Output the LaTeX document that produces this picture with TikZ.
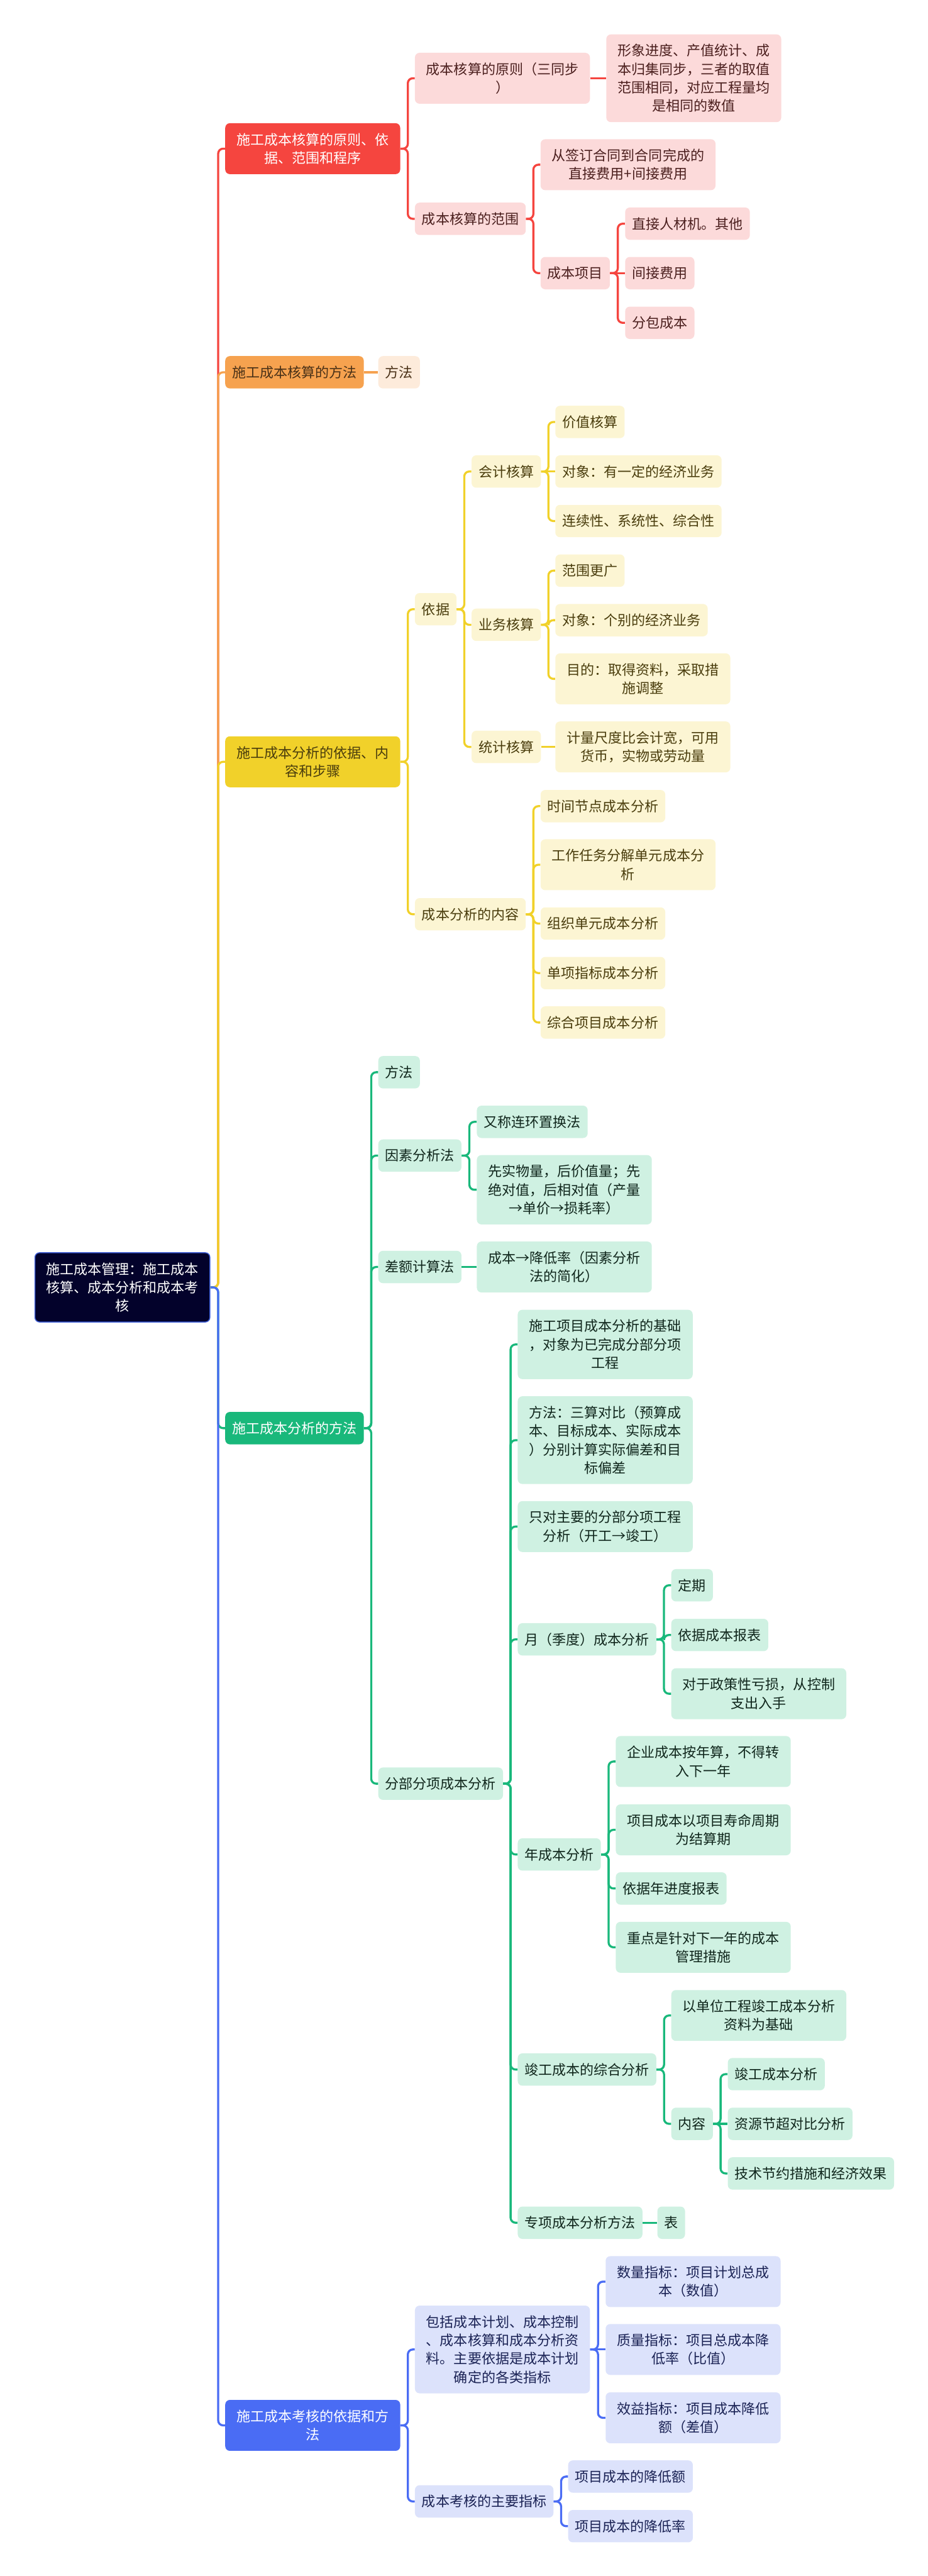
\documentclass[tikz,border=0pt]{standalone}
\usepackage{fontspec}
\setmainfont{Noto Sans CJK SC}
\usepackage{xcolor}
\definecolor{rootBg}{HTML}{03022B}
\definecolor{rootBorder}{HTML}{3D5DD6}
\definecolor{redMain}{HTML}{F5453F}
\definecolor{redSoft}{HTML}{FCDADA}
\definecolor{redInk}{HTML}{4B1F1E}
\definecolor{orgMain}{HTML}{F6A24F}
\definecolor{orgSoft}{HTML}{FDEBDB}
\definecolor{orgInk}{HTML}{4A3117}
\definecolor{ylwMain}{HTML}{F1D12A}
\definecolor{ylwSoft}{HTML}{FCF5D3}
\definecolor{ylwInk}{HTML}{4A3D0D}
\definecolor{grnMain}{HTML}{19B87B}
\definecolor{grnSoft}{HTML}{CFF1E2}
\definecolor{grnInk}{HTML}{10261C}
\definecolor{bluMain}{HTML}{4A6CF4}
\definecolor{bluSoft}{HTML}{DCE2FB}
\definecolor{bluInk}{HTML}{1B2355}
\tikzset{
  every node/.style={font=\fontsize{12}{16}\selectfont},
  rootbox/.style={draw=rootBorder, fill=rootBg, text=white, line width=0.8pt,
    rounded corners=4pt, text width=4.905cm, align=center, inner xsep=6pt,
    inner ysep=2pt, minimum height=2.11cm, anchor=west},
  topic/.style={fill=#1Main, rounded corners=4pt, inner xsep=6pt,
    inner ysep=2pt, minimum height=0.985cm, anchor=west},
  leaf/.style={fill=#1Soft, text=#1Ink, rounded corners=4pt, inner xsep=6pt,
    inner ysep=2pt, minimum height=0.985cm, anchor=west},
  wrap/.style={text width=4.905cm, align=center},
  twoln/.style={minimum height=1.55cm},
  threeln/.style={minimum height=2.11cm},
  fourln/.style={minimum height=2.67cm},
  branch/.style={draw=#1Main, line width=1.8pt, rounded corners=0.15cm}
}

\begin{document}
\begin{tikzpicture}[x=0.05cm,y=-0.05cm]
  \useasboundingbox (0,0) rectangle (565,1568);
  \node[rootbox] (root) at (21,783.6) {施工成本管理：施工成本\\核算、成本分析和成本考\\核};

  % 成本核算
  \node[topic=red,wrap,twoln,text=white] (r0) at (137,90.5) {施工成本核算的原则、依\\据、范围和程序};
  \node[leaf=red,wrap,twoln] (r1) at (252.5,47.65) {成本核算的原则（三同步\\）};
  \node[leaf=red,wrap,fourln] (r11) at (369,47.65) {形象进度、产值统计、成\\本归集同步，三者的取值\\范围相同，对应工程量均\\是相同的数值};
  \node[leaf=red] (r2) at (252.5,133.2) {成本核算的范围};
  \node[leaf=red,wrap,twoln] (r21) at (329,100.25) {从签订合同到合同完成的\\直接费用+间接费用};
  \node[leaf=red] (r22) at (329,166.25) {成本项目};
  \node[leaf=red] (r221) at (380.5,136.15) {直接人材机。其他};
  \node[leaf=red] (r222) at (380.5,166.25) {间接费用};
  \node[leaf=red] (r223) at (380.5,196.5) {分包成本};

  \node[topic=org,text=orgInk] (o0) at (137,226.6) {施工成本核算的方法};
  \node[leaf=org] (o1) at (230.2,226.6) {方法};

  % 成本分析的依据
  \node[topic=ylw,wrap,twoln,text=ylwInk] (y0) at (137,463.7) {施工成本分析的依据、内\\容和步骤};
  \node[leaf=ylw] (y1) at (252.5,370.85) {依据};
  \node[leaf=ylw] (y11) at (287,287) {会计核算};
  \node[leaf=ylw] (y111) at (338,256.85) {价值核算};
  \node[leaf=ylw] (y112) at (338,287) {对象：有一定的经济业务};
  \node[leaf=ylw] (y113) at (338,317.15) {连续性、系统性、综合性};
  \node[leaf=ylw] (y12) at (287,380.3) {业务核算};
  \node[leaf=ylw] (y121) at (338,347.35) {范围更广};
  \node[leaf=ylw] (y122) at (338,377.5) {对象：个别的经济业务};
  \node[leaf=ylw,wrap,twoln] (y123) at (338,413.2) {目的：取得资料，采取措\\施调整};
  \node[leaf=ylw] (y13) at (287,454.65) {统计核算};
  \node[leaf=ylw,wrap,twoln] (y131) at (338,454.65) {计量尺度比会计宽，可用\\货币，实物或劳动量};
  \node[leaf=ylw] (y2) at (252.5,556.5) {成本分析的内容};
  \node[leaf=ylw] (y21) at (329,490.7) {时间节点成本分析};
  \node[leaf=ylw,wrap,twoln] (y22) at (329,526.35) {工作任务分解单元成本分\\析};
  \node[leaf=ylw] (y23) at (329,562.15) {组织单元成本分析};
  \node[leaf=ylw] (y24) at (329,592.3) {单项指标成本分析};
  \node[leaf=ylw] (y25) at (329,622.4) {综合项目成本分析};

  % 成本分析的方法
  \node[topic=grn,text=white] (g0) at (137,869.3) {施工成本分析的方法};
  \node[leaf=grn] (g1) at (230.2,652.65) {方法};
  \node[leaf=grn] (g2) at (230.2,703.4) {因素分析法};
  \node[leaf=grn] (g21) at (290.2,682.85) {又称连环置换法};
  \node[leaf=grn,wrap,threeln] (g22) at (290.2,724.2) {先实物量，后价值量；先\\绝对值，后相对值（产量\\→单价→损耗率）};
  \node[leaf=grn] (g3) at (230.2,771.2) {差额计算法};
  \node[leaf=grn,wrap,twoln] (g31) at (290.2,771.2) {成本→降低率（因素分析\\法的简化）};
  \node[leaf=grn] (g4) at (230.2,1085.7) {分部分项成本分析};
  \node[leaf=grn,wrap,threeln] (g41) at (315.1,818.35) {施工项目成本分析的基础\\，对象为已完成分部分项\\工程};
  \node[leaf=grn,wrap,fourln] (g42) at (315.1,876.6) {方法：三算对比（预算成\\本、目标成本、实际成本\\）分别计算实际偏差和目\\标偏差};
  \node[leaf=grn,wrap,twoln] (g43) at (315.1,929.2) {只对主要的分部分项工程\\分析（开工→竣工）};
  \node[leaf=grn] (g44) at (315.1,997.85) {月（季度）成本分析};
  \node[leaf=grn] (g441) at (408.6,964.95) {定期};
  \node[leaf=grn] (g442) at (408.6,995.2) {依据成本报表};
  \node[leaf=grn,wrap,twoln] (g443) at (408.6,1030.95) {对于政策性亏损，从控制\\支出入手};
  \node[leaf=grn] (g45) at (315.1,1128.8) {年成本分析};
  \node[leaf=grn,wrap,twoln] (g451) at (374.8,1072.2) {企业成本按年算，不得转\\入下一年};
  \node[leaf=grn,wrap,twoln] (g452) at (374.8,1113.8) {项目成本以项目寿命周期\\为结算期};
  \node[leaf=grn] (g453) at (374.8,1149.5) {依据年进度报表};
  \node[leaf=grn,wrap,twoln] (g454) at (374.8,1185.3) {重点是针对下一年的成本\\管理措施};
  \node[leaf=grn] (g46) at (315.1,1259.7) {竣工成本的综合分析};
  \node[leaf=grn,wrap,twoln] (g461) at (408.6,1226.8) {以单位工程竣工成本分析\\资料为基础};
  \node[leaf=grn] (g462) at (408.6,1292.75) {内容};
  \node[leaf=grn] (g4621) at (443,1262.5) {竣工成本分析};
  \node[leaf=grn] (g4622) at (443,1292.75) {资源节超对比分析};
  \node[leaf=grn] (g4623) at (443,1322.95) {技术节约措施和经济效果};
  \node[leaf=grn] (g47) at (315.1,1352.95) {专项成本分析方法};
  \node[leaf=grn] (g471) at (400.1,1352.95) {表};

  % 成本考核
  \node[topic=blu,wrap,twoln,text=white] (b0) at (137,1476.3) {施工成本考核的依据和方\\法};
  \node[leaf=blu,wrap,fourln] (b1) at (252.5,1430.1) {包括成本计划、成本控制\\、成本核算和成本分析资\\料。主要依据是成本计划\\确定的各类指标};
  \node[leaf=blu,wrap,twoln] (b11) at (368.6,1388.8) {数量指标：项目计划总成\\本（数值）};
  \node[leaf=blu,wrap,twoln] (b12) at (368.6,1430.1) {质量指标：项目总成本降\\低率（比值）};
  \node[leaf=blu,wrap,twoln] (b13) at (368.6,1471.7) {效益指标：项目成本降低\\额（差值）};
  \node[leaf=blu] (b2) at (252.5,1522.6) {成本考核的主要指标};
  \node[leaf=blu] (b21) at (345.8,1507.45) {项目成本的降低额};
  \node[leaf=blu] (b22) at (345.8,1537.65) {项目成本的降低率};

  % trunk
  \draw[branch=red] (root.east) -- ++(4.75,0) |- (r0.west);
  \draw[branch=org] (root.east) -- ++(4.75,0) |- (o0.west);
  \draw[branch=ylw] (root.east) -- ++(4.75,0) |- (y0.west);
  \draw[branch=grn] (root.east) -- ++(4.75,0) |- (g0.west);
  \draw[branch=blu] (root.east) -- ++(4.75,0) |- (b0.west);

  \foreach \c in {r1,r2} \draw[branch=red] (r0.east) -- ++(4.5,0) |- (\c.west);
  \draw[branch=red] (r1.east) -- (r11.west);
  \foreach \c in {r21,r22} \draw[branch=red] (r2.east) -- ++(4.5,0) |- (\c.west);
  \foreach \c in {r221,r223} \draw[branch=red] (r22.east) -- ++(4.7,0) |- (\c.west);
  \draw[branch=red] (r22.east) -- (r222.west);
  \draw[branch=org] (o0.east) -- (o1.west);

  \foreach \c in {y1,y2} \draw[branch=ylw] (y0.east) -- ++(4.5,0) |- (\c.west);
  \foreach \c in {y11,y12,y13} \draw[branch=ylw] (y1.east) -- ++(4.6,0) |- (\c.west);
  \foreach \c in {y111,y113} \draw[branch=ylw] (y11.east) -- ++(4.45,0) |- (\c.west);
  \draw[branch=ylw] (y11.east) -- (y112.west);
  \foreach \c in {y121,y122,y123} \draw[branch=ylw] (y12.east) -- ++(4.45,0) |- (\c.west);
  \draw[branch=ylw] (y13.east) -- (y131.west);
  \foreach \c in {y21,y22,y23,y24,y25} \draw[branch=ylw] (y2.east) -- ++(4.5,0) |- (\c.west);

  \foreach \c in {g1,g2,g3,g4} \draw[branch=grn] (g0.east) -- ++(4.4,0) |- (\c.west);
  \foreach \c in {g21,g22} \draw[branch=grn] (g2.east) -- ++(4.7,0) |- (\c.west);
  \draw[branch=grn] (g3.east) -- (g31.west);
  \foreach \c in {g41,g42,g43,g44,g45,g46,g47} \draw[branch=grn] (g4.east) -- ++(4.5,0) |- (\c.west);
  \foreach \c in {g441,g442,g443} \draw[branch=grn] (g44.east) -- ++(4.55,0) |- (\c.west);
  \foreach \c in {g451,g452,g453,g454} \draw[branch=grn] (g45.east) -- ++(4.55,0) |- (\c.west);
  \foreach \c in {g461,g462} \draw[branch=grn] (g46.east) -- ++(4.6,0) |- (\c.west);
  \foreach \c in {g4621,g4623} \draw[branch=grn] (g462.east) -- ++(4.55,0) |- (\c.west);
  \draw[branch=grn] (g462.east) -- (g4622.west);
  \draw[branch=grn] (g47.east) -- (g471.west);

  \foreach \c in {b1,b2} \draw[branch=blu] (b0.east) -- ++(4.5,0) |- (\c.west);
  \foreach \c in {b11,b13} \draw[branch=blu] (b1.east) -- ++(4.8,0) |- (\c.west);
  \draw[branch=blu] (b1.east) -- (b12.west);
  \foreach \c in {b21,b22} \draw[branch=blu] (b2.east) -- ++(4.5,0) |- (\c.west);
\end{tikzpicture}
\end{document}
